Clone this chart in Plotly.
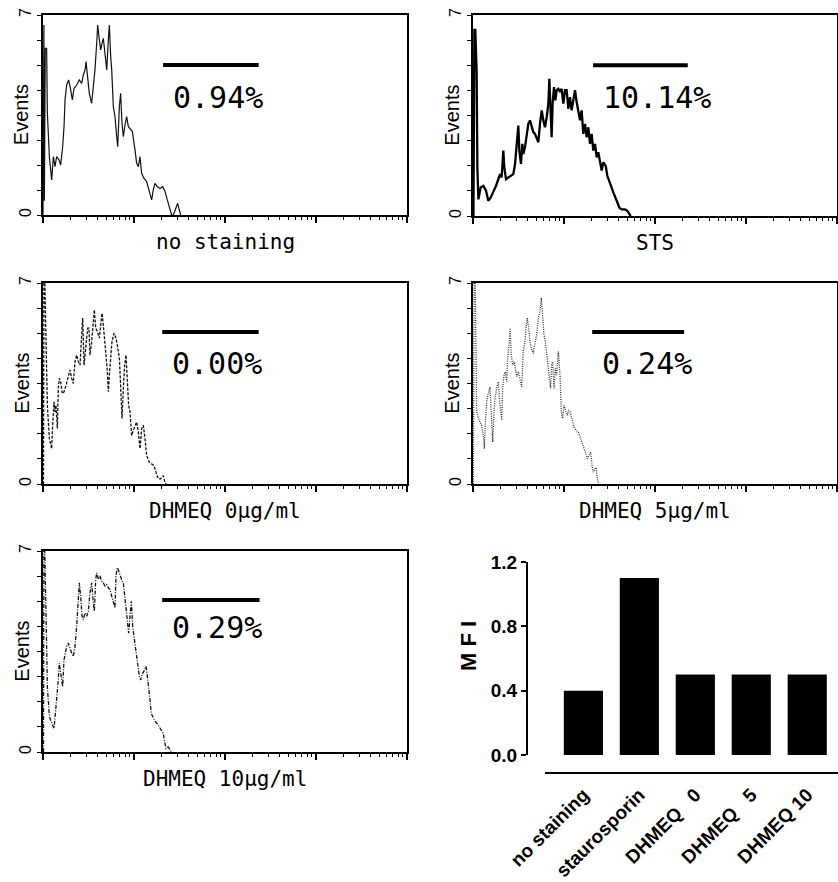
import plotly.graph_objects as go
import math

# ---------------- data ----------------
# histogram x positions in log10 decades of fluorescence (axis 10^0 .. 10^4), y = events
p1_x = [0.0, 0.010, 0.015, 0.025, 0.040, 0.048, 0.070, 0.095, 0.114, 0.132, 0.150, 0.176, 0.194, 0.216, 0.231, 0.242, 0.260, 0.282, 0.304, 0.322, 0.341, 0.370, 0.399, 0.425, 0.443, 0.462, 0.473, 0.491, 0.509, 0.535, 0.553, 0.571, 0.590, 0.601, 0.615, 0.634, 0.648, 0.663, 0.681, 0.700, 0.718, 0.729, 0.744, 0.755, 0.773, 0.791, 0.810, 0.821, 0.839, 0.853, 0.868, 0.883, 0.901, 0.919, 0.938, 0.956, 0.982, 1.011, 1.029, 1.048, 1.066, 1.084, 1.110, 1.139, 1.168, 1.194, 1.212, 1.231, 1.256, 1.286, 1.315, 1.341, 1.366, 1.396, 1.414, 1.432, 1.462, 1.480, 1.498, 1.513]
p1_y = [0.0, 6.65, 0.5, 5.83, 5.83, 3.56, 2.04, 1.23, 2.04, 1.69, 2.04, 1.93, 1.75, 2.39, 3.09, 4.03, 4.55, 4.73, 4.38, 4.03, 4.43, 4.55, 4.73, 4.61, 4.90, 5.08, 5.37, 4.84, 4.26, 3.91, 4.49, 5.08, 6.01, 6.65, 6.24, 5.78, 6.01, 6.18, 5.66, 5.08, 6.13, 6.65, 5.54, 5.08, 3.79, 3.44, 2.74, 2.39, 3.79, 4.26, 3.21, 2.74, 3.15, 3.44, 3.09, 3.03, 2.92, 2.28, 1.81, 1.69, 2.04, 1.46, 1.28, 1.17, 0.82, 0.53, 0.88, 1.11, 0.99, 0.93, 0.99, 0.82, 0.53, 0.18, 0.0, 0.0, 0.23, 0.41, 0.18, 0.0]

p2_x = [0.005, 0.015, 0.025, 0.040, 0.048, 0.059, 0.084, 0.114, 0.143, 0.168, 0.194, 0.223, 0.253, 0.278, 0.297, 0.315, 0.333, 0.344, 0.363, 0.388, 0.414, 0.443, 0.462, 0.480, 0.498, 0.509, 0.527, 0.542, 0.553, 0.571, 0.590, 0.608, 0.626, 0.645, 0.663, 0.681, 0.700, 0.718, 0.736, 0.755, 0.773, 0.791, 0.810, 0.828, 0.839, 0.853, 0.864, 0.875, 0.890, 0.905, 0.919, 0.938, 0.956, 0.974, 0.993, 1.011, 1.029, 1.048, 1.066, 1.084, 1.103, 1.121, 1.139, 1.158, 1.176, 1.194, 1.212, 1.231, 1.249, 1.267, 1.286, 1.304, 1.322, 1.341, 1.359, 1.377, 1.396, 1.414, 1.432, 1.458, 1.476, 1.505, 1.542, 1.579, 1.608, 1.634, 1.670, 1.696, 1.718, 1.733]
p2_y = [0.0, 6.48, 6.48, 5.02, 1.69, 0.58, 0.99, 1.05, 0.88, 0.53, 0.64, 0.82, 1.05, 1.28, 1.46, 1.34, 2.28, 1.69, 1.28, 1.34, 1.40, 1.46, 1.81, 2.39, 3.15, 2.28, 1.81, 2.51, 2.16, 2.39, 2.74, 3.21, 3.33, 3.09, 2.92, 2.86, 2.68, 2.57, 3.21, 3.68, 3.33, 3.09, 3.44, 3.91, 4.78, 3.68, 2.74, 3.91, 4.49, 4.03, 4.38, 4.43, 4.32, 4.43, 3.91, 4.38, 4.38, 3.73, 4.14, 3.68, 4.03, 4.38, 3.97, 3.68, 3.33, 3.68, 2.86, 3.21, 2.74, 3.09, 2.51, 2.86, 2.28, 2.51, 2.04, 2.22, 1.81, 1.58, 1.87, 1.75, 1.40, 1.11, 0.82, 0.53, 0.29, 0.23, 0.23, 0.18, 0.06, 0.0]

p3_x = [0.005, 0.010, 0.020, 0.033, 0.048, 0.070, 0.095, 0.106, 0.121, 0.132, 0.143, 0.158, 0.168, 0.179, 0.194, 0.212, 0.231, 0.253, 0.278, 0.297, 0.315, 0.333, 0.352, 0.370, 0.388, 0.407, 0.421, 0.436, 0.451, 0.473, 0.491, 0.505, 0.516, 0.535, 0.553, 0.564, 0.579, 0.597, 0.619, 0.634, 0.648, 0.663, 0.678, 0.692, 0.707, 0.718, 0.729, 0.744, 0.758, 0.780, 0.802, 0.817, 0.839, 0.853, 0.868, 0.883, 0.897, 0.912, 0.927, 0.941, 0.956, 0.974, 0.993, 1.011, 1.029, 1.048, 1.066, 1.084, 1.103, 1.121, 1.139, 1.168, 1.194, 1.220, 1.242, 1.267, 1.293, 1.322, 1.341, 1.352]
p3_y = [0.0, 7.0, 7.0, 4.38, 2.74, 1.58, 1.23, 2.04, 2.86, 2.51, 2.74, 1.93, 3.33, 3.68, 3.56, 3.15, 3.21, 3.44, 3.79, 3.97, 3.68, 3.50, 4.26, 4.49, 4.26, 4.14, 4.96, 5.78, 4.14, 4.84, 5.43, 5.43, 4.49, 4.96, 5.54, 6.07, 5.43, 5.31, 5.08, 5.54, 5.95, 5.54, 4.84, 4.49, 3.91, 3.21, 3.79, 4.38, 4.96, 5.25, 5.08, 4.84, 4.38, 3.44, 2.28, 3.33, 4.14, 4.49, 3.68, 2.74, 2.51, 1.69, 1.87, 2.04, 2.16, 1.81, 1.23, 1.93, 2.04, 1.58, 0.99, 0.76, 0.70, 0.64, 0.41, 0.18, 0.18, 0.29, 0.06, 0.0]

p4_x = [0.005, 0.012, 0.025, 0.040, 0.059, 0.077, 0.095, 0.114, 0.125, 0.136, 0.150, 0.168, 0.187, 0.198, 0.209, 0.216, 0.231, 0.242, 0.260, 0.278, 0.297, 0.315, 0.326, 0.341, 0.355, 0.370, 0.381, 0.396, 0.407, 0.421, 0.436, 0.451, 0.465, 0.480, 0.498, 0.516, 0.535, 0.553, 0.571, 0.582, 0.597, 0.612, 0.626, 0.645, 0.663, 0.681, 0.700, 0.718, 0.736, 0.751, 0.766, 0.780, 0.795, 0.810, 0.824, 0.839, 0.853, 0.864, 0.875, 0.890, 0.905, 0.919, 0.938, 0.956, 0.971, 0.985, 1.000, 1.022, 1.037, 1.051, 1.066, 1.088, 1.110, 1.132, 1.158, 1.183, 1.212, 1.234, 1.256, 1.278, 1.293, 1.308, 1.322, 1.341, 1.352, 1.366, 1.381]
p4_y = [0.0, 7.0, 7.0, 2.51, 2.28, 2.16, 2.04, 1.69, 1.23, 2.16, 2.86, 3.15, 3.38, 2.63, 1.93, 1.46, 2.51, 2.98, 3.33, 3.56, 2.74, 2.22, 3.33, 3.79, 3.91, 3.56, 4.38, 4.84, 5.43, 4.49, 4.14, 4.26, 4.03, 3.73, 3.91, 3.68, 3.38, 4.67, 4.96, 5.43, 5.78, 5.43, 4.96, 4.67, 4.55, 4.90, 5.19, 5.78, 6.01, 6.48, 5.89, 5.19, 4.96, 4.61, 4.14, 3.68, 3.33, 4.14, 4.26, 3.33, 4.03, 3.79, 4.61, 3.79, 2.51, 2.28, 2.74, 2.51, 2.39, 2.57, 2.51, 2.28, 1.98, 1.87, 1.81, 1.58, 1.34, 1.11, 0.88, 0.99, 1.11, 0.64, 0.41, 0.53, 0.58, 0.18, 0.0]

p5_x = [0.005, 0.010, 0.020, 0.033, 0.048, 0.070, 0.095, 0.121, 0.136, 0.150, 0.168, 0.179, 0.194, 0.205, 0.216, 0.231, 0.245, 0.260, 0.278, 0.297, 0.315, 0.333, 0.352, 0.370, 0.385, 0.399, 0.414, 0.429, 0.443, 0.462, 0.480, 0.498, 0.516, 0.535, 0.553, 0.564, 0.579, 0.590, 0.608, 0.626, 0.645, 0.663, 0.681, 0.700, 0.718, 0.736, 0.755, 0.773, 0.791, 0.802, 0.817, 0.832, 0.846, 0.864, 0.883, 0.897, 0.912, 0.927, 0.941, 0.956, 0.971, 0.985, 1.000, 1.015, 1.029, 1.044, 1.059, 1.073, 1.095, 1.117, 1.132, 1.147, 1.161, 1.176, 1.190, 1.212, 1.234, 1.256, 1.278, 1.300, 1.322, 1.337, 1.352, 1.374, 1.396, 1.414]
p5_y = [0.0, 7.0, 7.0, 4.49, 2.28, 1.23, 0.99, 0.82, 1.34, 1.81, 2.51, 3.09, 2.74, 2.39, 2.28, 3.21, 3.44, 3.68, 3.79, 3.56, 3.44, 3.33, 3.68, 4.38, 5.08, 5.89, 5.43, 4.73, 4.61, 4.84, 4.73, 4.90, 5.54, 5.89, 5.19, 4.90, 6.01, 6.24, 6.01, 6.13, 5.95, 5.89, 5.78, 5.83, 5.72, 5.66, 5.43, 5.19, 5.02, 6.13, 6.42, 6.30, 6.13, 6.01, 5.89, 5.43, 4.84, 4.49, 4.14, 4.73, 5.25, 4.38, 4.03, 3.79, 3.44, 2.98, 2.63, 2.51, 2.74, 2.86, 2.98, 2.63, 2.28, 1.81, 1.34, 1.17, 1.05, 0.99, 0.88, 0.76, 0.64, 0.35, 0.12, 0.18, 0.06, 0.0]

panel_labels = ["no staining", "STS", "DHMEQ 0μg/ml", "DHMEQ 5μg/ml", "DHMEQ 10μg/ml"]
pct_labels = ["0.94%", "10.14%", "0.00%", "0.24%", "0.29%"]
gate_lo = [1.32, 1.32, 1.31, 1.31, 1.31]
gate_hi = [2.37, 2.36, 2.37, 2.32, 2.38]
gate_y = [5.25, 5.25, 5.29, 5.29, 5.29]
pct_y = [4.13, 4.13, 4.21, 4.21, 4.32]
y_tick_labels = ["0", "7"]
y_tick_vals = [0, 7]

bar_labels = ["no staining", "staurosporin", "DHMEQ\u00a0\u00a0\u00a00", "DHMEQ\u00a0\u00a0\u00a05", "DHMEQ 10"]
mfi_values = [0.40, 1.10, 0.50, 0.50, 0.50]

# ---------------- styling ----------------
W, H = 838, 882
def px_x(p):
    return p / W
def px_y(p):
    return 1 - p / H

hist_dom = [
    ([43, 407], [15, 215]),
    ([473, 837], [15, 216]),
    ([43, 407], [283, 484]),
    ([473, 837], [283, 484]),
    ([43, 407], [551, 752]),
]
line_styles = [
    dict(width=1.2, dash="solid", color="#111"),
    dict(width=2.3, dash="solid", color="#000"),
    dict(width=1.3, dash="3px,1.5px", color="#111"),
    dict(width=1.3, dash="1px,1.3px", color="#333"),
    dict(width=1.3, dash="4px,1.5px,1px,1.5px", color="#111"),
]
xs = [p1_x, p2_x, p3_x, p4_x, p5_x]
ys = [p1_y, p2_y, p3_y, p4_y, p5_y]

major_x = [0, 1, 2, 3, 4]
minor_x = [n + math.log10(k) for n in range(4) for k in range(2, 10)]
minor_y = [7 * k / 8 for k in range(1, 8)]

fig = go.Figure()
layout = dict(
    width=W, height=H, margin=dict(l=0, r=0, t=0, b=0, autoexpand=False),
    paper_bgcolor="white", plot_bgcolor="white", showlegend=False,
    annotations=[], shapes=[], bargap=0.3,
)

for i in range(5):
    n = "" if i == 0 else str(i + 1)
    xa, ya = "x" + n, "y" + n
    fig.add_trace(go.Scatter(x=xs[i], y=ys[i], mode="lines", line=line_styles[i],
                             xaxis=xa, yaxis=ya, hoverinfo="skip"))
    fig.add_trace(go.Scatter(x=[gate_lo[i], gate_hi[i]], y=[gate_y[i], gate_y[i]], mode="lines",
                             line=dict(width=4, color="black"), xaxis=xa, yaxis=ya, hoverinfo="skip"))
    (x0, x1), (y0, y1) = hist_dom[i]
    layout["xaxis" + n] = dict(
        domain=[px_x(x0), px_x(x1)], range=[0, 4], anchor=ya,
        showgrid=False, zeroline=False, showline=True, linecolor="black", linewidth=1.6, mirror=True,
        tickmode="array", tickvals=major_x, showticklabels=False, ticks="outside", ticklen=6,
        tickwidth=1.2, tickcolor="black",
        minor=dict(tickvals=minor_x, ticks="outside", ticklen=3.5, tickwidth=1, tickcolor="black"),
    )
    layout["yaxis" + n] = dict(
        domain=[px_y(y1), px_y(y0)], range=[0, 7], anchor=xa,
        showgrid=False, zeroline=False, showline=True, linecolor="black", linewidth=1.6, mirror=True,
        tickmode="array", tickvals=y_tick_vals, ticktext=y_tick_labels, tickangle=-90,
        ticks="outside", ticklen=4, tickwidth=1, tickcolor="black",
        tickfont=dict(family="Liberation Sans", size=16, color="black"),
        minor=dict(tickvals=minor_y, ticks="outside", ticklen=4, tickwidth=1, tickcolor="black"),
    )
    layout["annotations"] += [
        dict(text=pct_labels[i], xref=xa, yref=ya, x=gate_lo[i] + 0.09, y=pct_y[i],
             xanchor="left", yanchor="middle", showarrow=False,
             font=dict(family="DejaVu Sans Mono", size=30, color="black")),
        dict(text=panel_labels[i], xref=xa + " domain", yref=ya + " domain", x=0.5, y=-0.135,
             xanchor="center", yanchor="middle", showarrow=False,
             font=dict(family="DejaVu Sans Mono", size=21, color="black")),
        dict(text="Events", xref=xa + " domain", yref=ya + " domain", x=-0.06, y=0.5,
             textangle=-90, xanchor="center", yanchor="middle", showarrow=False,
             font=dict(family="Liberation Sans", size=20, color="black")),
    ]

# bar chart
fig.add_trace(go.Bar(x=bar_labels, y=mfi_values, marker=dict(color="black", line=dict(width=0)),
                     xaxis="x6", yaxis="y6", hoverinfo="skip"))
layout["xaxis6"] = dict(
    domain=[px_x(528), 1.0], range=[-0.99, 4.55], anchor="y6", type="category",
    showgrid=False, zeroline=False, showline=False, ticks="", tickangle=-45,
    ticklabelstandoff=24,
    tickfont=dict(family="Liberation Sans", size=19, color="black", weight="bold"),
)
layout["yaxis6"] = dict(
    domain=[px_y(755), px_y(562)], range=[0, 1.2], anchor="x6",
    showgrid=False, zeroline=False, showline=True, linecolor="black", linewidth=2,
    tickmode="array", tickvals=[0, 0.4, 0.8, 1.2], tickformat=".1f",
    ticks="outside", ticklen=5, tickwidth=2, tickcolor="black",
    tickfont=dict(family="Liberation Sans", size=19, color="black", weight="bold"),
)
layout["annotations"].append(
    dict(text="M F I", xref="x6 domain", yref="y6 domain", x=-0.19, y=0.565, textangle=-90,
         xanchor="center", yanchor="middle", showarrow=False,
         font=dict(family="Liberation Sans", size=22, color="black", weight="bold")))
layout["shapes"].append(
    dict(type="line", xref="paper", yref="paper", x0=px_x(545), x1=1.0, y0=px_y(773), y1=px_y(773),
         line=dict(color="black", width=2)))

fig.update_layout(**layout)
fig.write_html("out.html", config={"displayModeBar": False, "staticPlot": True},
               post_script="document.body.style.margin='0';document.body.style.overflow='hidden';")
